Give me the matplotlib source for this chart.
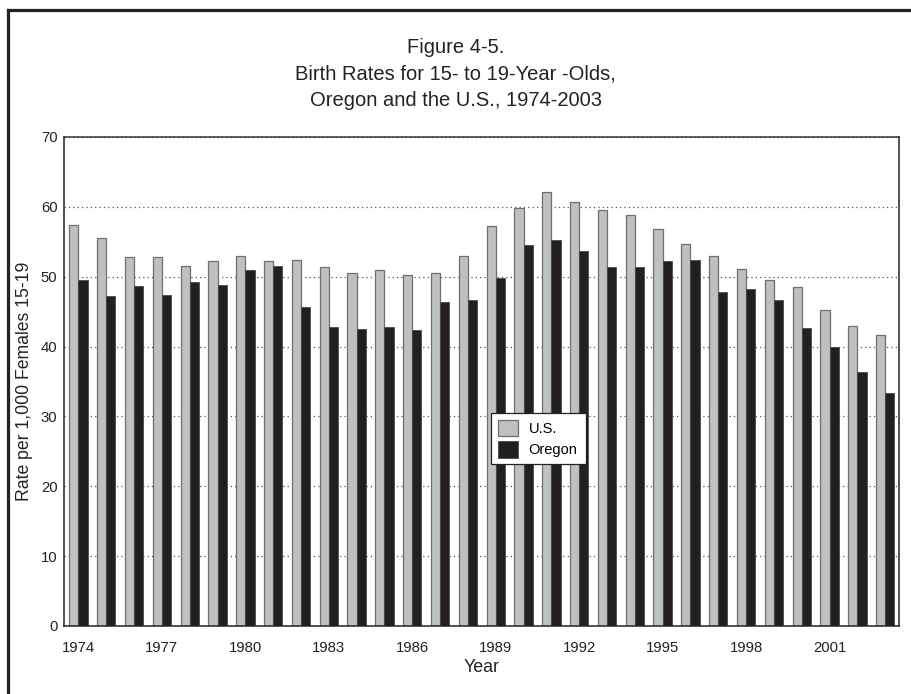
import numpy as np
import matplotlib.pyplot as plt
from matplotlib.lines import Line2D

plt.rcParams['font.family'] = ['Liberation Sans', 'DejaVu Sans']

years = list(range(1974, 2004))
us = [57.4, 55.6, 52.8, 52.8, 51.5, 52.2, 52.9, 52.2, 52.4, 51.4,
      50.6, 51.0, 50.2, 50.6, 52.9, 57.2, 59.9, 62.1, 60.7, 59.6,
      58.8, 56.8, 54.7, 52.9, 51.1, 49.6, 48.5, 45.3, 42.9, 41.7]
oregon = [49.5, 47.2, 48.6, 47.4, 49.3, 48.8, 50.9, 51.5, 45.7, 42.8,
          42.5, 42.8, 42.3, 46.4, 46.7, 49.8, 54.5, 55.2, 53.7, 51.4,
          51.4, 52.2, 52.4, 47.8, 48.3, 46.6, 42.6, 39.9, 36.3, 33.4]
tick_years = [1974, 1977, 1980, 1983, 1986, 1989, 1992, 1995, 1998, 2001]

fig = plt.figure(figsize=(9.11, 6.94), dpi=100)
ax = fig.add_axes([0.0708, 0.098, 0.9162, 0.7046])

x = np.arange(len(years))
w = 0.33
ax.bar(x - w / 2, us, width=w, color='#bfc0c2', edgecolor='#6f6f6f',
       linewidth=0.9, label='U.S.', zorder=2)
ax.bar(x + w / 2, oregon, width=w, color='#231f20', edgecolor='#4a4a4a',
       linewidth=0.6, label='Oregon', zorder=2)

ax.set_xlim(-0.5, len(years) - 0.5)
ax.set_ylim(0, 70)
ax.set_yticks(range(0, 71, 10))
ax.set_xticks([years.index(y) for y in tick_years])
ax.set_xticklabels([str(y) for y in tick_years])
ax.tick_params(axis='both', length=0, labelsize=10.7, colors='#222222')
ax.tick_params(axis='x', pad=11)
ax.tick_params(axis='y', pad=5)

ax.yaxis.grid(True, linestyle=(0, (1, 2.5)), color='#555555', linewidth=0.9, zorder=0)
ax.set_axisbelow(True)

ax.spines['top'].set_linestyle((0, (1, 1)))
ax.spines['top'].set_color('#333333')
ax.spines['left'].set_color('#222222')
ax.spines['bottom'].set_color('#222222')
ax.spines['right'].set_color('#222222')
for s in ax.spines.values():
    s.set_linewidth(1.1)

ax.set_xlabel('Year', fontsize=12.8, color='#222222', labelpad=3)
ax.set_ylabel('Rate per 1,000 Females 15-19', fontsize=12.7, color='#222222', labelpad=6)

leg = ax.legend(loc='lower left', bbox_to_anchor=(0.5113, 0.331, 0.1137, 0.111),
                mode='expand', fontsize=10.5, frameon=True, fancybox=False,
                edgecolor='#222222', framealpha=1, borderpad=0.45,
                handlelength=1.35, handleheight=1.35, labelspacing=0.35,
                handletextpad=0.75, borderaxespad=0)
leg.get_frame().set_linewidth(0.9)

fig.text(0.5, 0.945, 'Figure 4-5.\nBirth Rates for 15- to 19-Year -Olds,\nOregon and the U.S., 1974-2003',
         ha='center', va='top', fontsize=14.5, color='#222222', linespacing=1.5)

# page frame
fig.add_artist(Line2D([0.0093, 1.0], [0.9863, 0.9863], color='#222222', linewidth=2.3,
                      transform=fig.transFigure))
fig.add_artist(Line2D([0.0093, 0.0093], [0.0, 0.9863], color='#222222', linewidth=2.3,
                      transform=fig.transFigure))

fig.savefig('out.png', dpi=100)
